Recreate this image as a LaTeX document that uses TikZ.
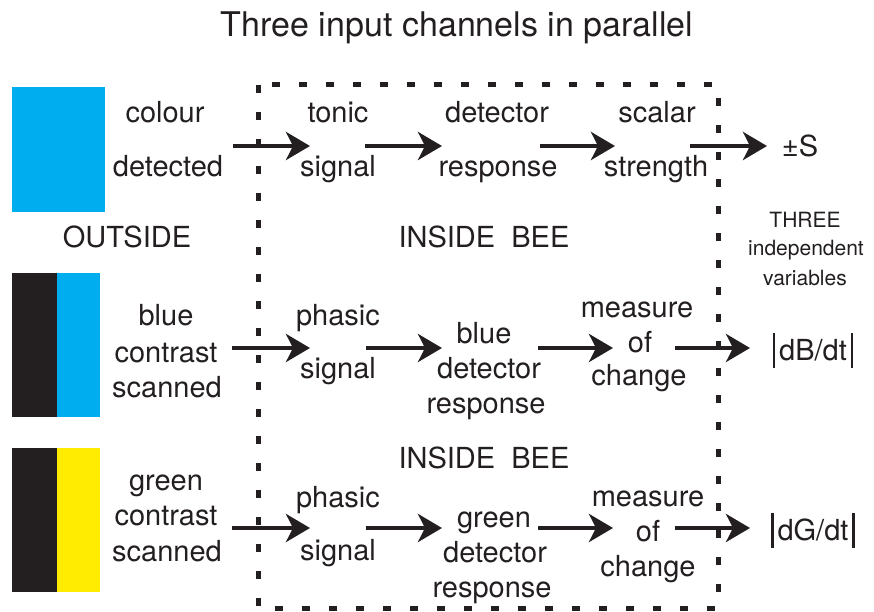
\documentclass[tikz,border=0pt]{standalone}
\usepackage{fontspec}
\setmainfont{TeX Gyre Heros}
\usetikzlibrary{arrows.meta}
\definecolor{ink}{HTML}{231F20}
\definecolor{bcyan}{HTML}{00AEEF}
\definecolor{byellow}{HTML}{FFEC00}
\begin{document}
\begin{tikzpicture}[x=1pt,y=-1pt,
  lbl/.style={anchor=base, inner sep=0pt, text=ink, font=\fontsize{29}{35}\selectfont},
  smalllbl/.style={lbl, font=\fontsize{21}{25}\selectfont},
  titlelbl/.style={lbl, font=\fontsize{34}{40}\selectfont},
  arr/.style={-{Stealth[length=24pt,width=28pt,inset=7pt]}, line width=4.5pt, draw=ink},
  bee/.style={draw=ink, line width=5pt, dash pattern=on 8pt off 19pt}]
\useasboundingbox (0,0) rectangle (874,612);

% colour patches
\fill[bcyan] (12,87) rectangle (105,212);
\fill[ink] (12,273) rectangle (57,417);
\fill[bcyan] (57,273) rectangle (100,417);
\fill[ink] (12,448) rectangle (57,592);
\fill[byellow] (57,448) rectangle (100,592);

% dashed "inside bee" box
\draw[bee] (258,85) rectangle (718,608);

% title
\node[titlelbl] (title) at (457,37) {Three input channels in parallel};

% row coordinates
\coordinate (row1) at (0,146);
\coordinate (row2) at (0,348);
\coordinate (row3) at (0,528);

% ---- row 1
\node[lbl] (colour)    at (165,123) {colour};
\node[lbl] (detected)  at (168,177) {detected};
\node[lbl] (tonic)     at (338,123) {tonic};
\node[lbl] (signalA)   at (338,177) {signal};
\node[lbl] (detectorA) at (497,123) {detector};
\node[lbl] (responseA) at (498,177) {response};
\node[lbl] (scalar)    at (657,123) {scalar};
\node[lbl] (strength)  at (656,177) {strength};
\node[lbl] (pmS)       at (800,157) {±S};

\node[lbl] (outside) at (127,247) {OUTSIDE};
\node[lbl] (insideA) at (484,247) {INSIDE~~BEE};
\node[smalllbl] (three) at (805,227) {THREE};
\node[smalllbl] (indep) at (806,255) {independent};
\node[smalllbl] (vars)  at (805,285) {variables};

% ---- row 2
\node[lbl] (blueB)      at (166,325) {blue};
\node[lbl] (contrastB)  at (166,362) {contrast};
\node[lbl] (scannedB)   at (167,397) {scanned};
\node[lbl] (phasicB)    at (338,325) {phasic};
\node[lbl] (signalB)    at (338,378) {signal};
\node[lbl] (blueDetB)   at (484,343) {blue};
\node[lbl] (detectorB)  at (489,378) {detector};
\node[lbl] (responseB)  at (486,413) {response};
\node[lbl] (measureB)   at (637,317) {measure};
\node[lbl] (ofB)        at (640,352) {of};
\node[lbl] (changeB)    at (639,385) {change};
\node[lbl] (dB)         at (813,360) {\rule[-8pt]{2.5pt}{35pt}\hspace{4pt}dB/dt\hspace{4pt}\rule[-8pt]{2.5pt}{35pt}};

% ---- row 3
\node[lbl] (insideB)    at (484,468) {INSIDE~~BEE};
\node[lbl] (greenC)     at (166,490) {green};
\node[lbl] (contrastC)  at (166,525) {contrast};
\node[lbl] (scannedC)   at (167,561) {scanned};
\node[lbl] (phasicC)    at (338,507) {phasic};
\node[lbl] (signalC)    at (338,560) {signal};
\node[lbl] (greenDetC)  at (494,527) {green};
\node[lbl] (detectorC)  at (495,562) {detector};
\node[lbl] (responseC)  at (492,597) {response};
\node[lbl] (measureC)   at (648,506) {measure};
\node[lbl] (ofC)        at (648,541) {of};
\node[lbl] (changeC)    at (648,576) {change};
\node[lbl] (dG)         at (813,540) {\rule[-8pt]{2.5pt}{35pt}\hspace{4pt}dG/dt\hspace{4pt}\rule[-8pt]{2.5pt}{35pt}};

% ---- arrows row 1
\draw[arr] ([xshift=65pt]detected.center |- row1) -- ([xshift=-28pt]signalA.center |- row1);
\draw[arr] ([xshift=27pt]tonic.center |- row1) -- ([xshift=-55pt]detectorA.center |- row1);
\draw[arr] ([xshift=43pt]detectorA.center |- row1) -- ([xshift=-42pt]scalar.center |- row1);
\draw[arr] ([xshift=33pt]scalar.center |- row1) -- ([xshift=-33pt]pmS.center |- row1);

% ---- arrows row 2
\draw[arr] ([xshift=66pt]contrastB.center |- row2) -- ([xshift=-28pt]signalB.center |- row2);
\draw[arr] ([xshift=28pt]phasicB.center |- row2) -- ([xshift=-47pt]detectorB.center |- row2);
\draw[arr] ([xshift=54pt]blueDetB.center |- row2) -- ([xshift=-27pt]ofB.center |- row2);
\draw[arr] ([xshift=35pt]ofB.center |- row2) -- ([xshift=-63pt]dB.center |- row2);

% ---- arrows row 3
\draw[arr] ([xshift=66pt]contrastC.center |- row3) -- ([xshift=-28pt]signalC.center |- row3);
\draw[arr] ([xshift=28pt]phasicC.center |- row3) -- ([xshift=-52pt]greenDetC.center |- row3);
\draw[arr] ([xshift=44pt]greenDetC.center |- row3) -- ([xshift=-35pt]ofC.center |- row3);
\draw[arr] ([xshift=27pt]ofC.center |- row3) -- ([xshift=-63pt]dG.center |- row3);
\end{tikzpicture}
\end{document}
